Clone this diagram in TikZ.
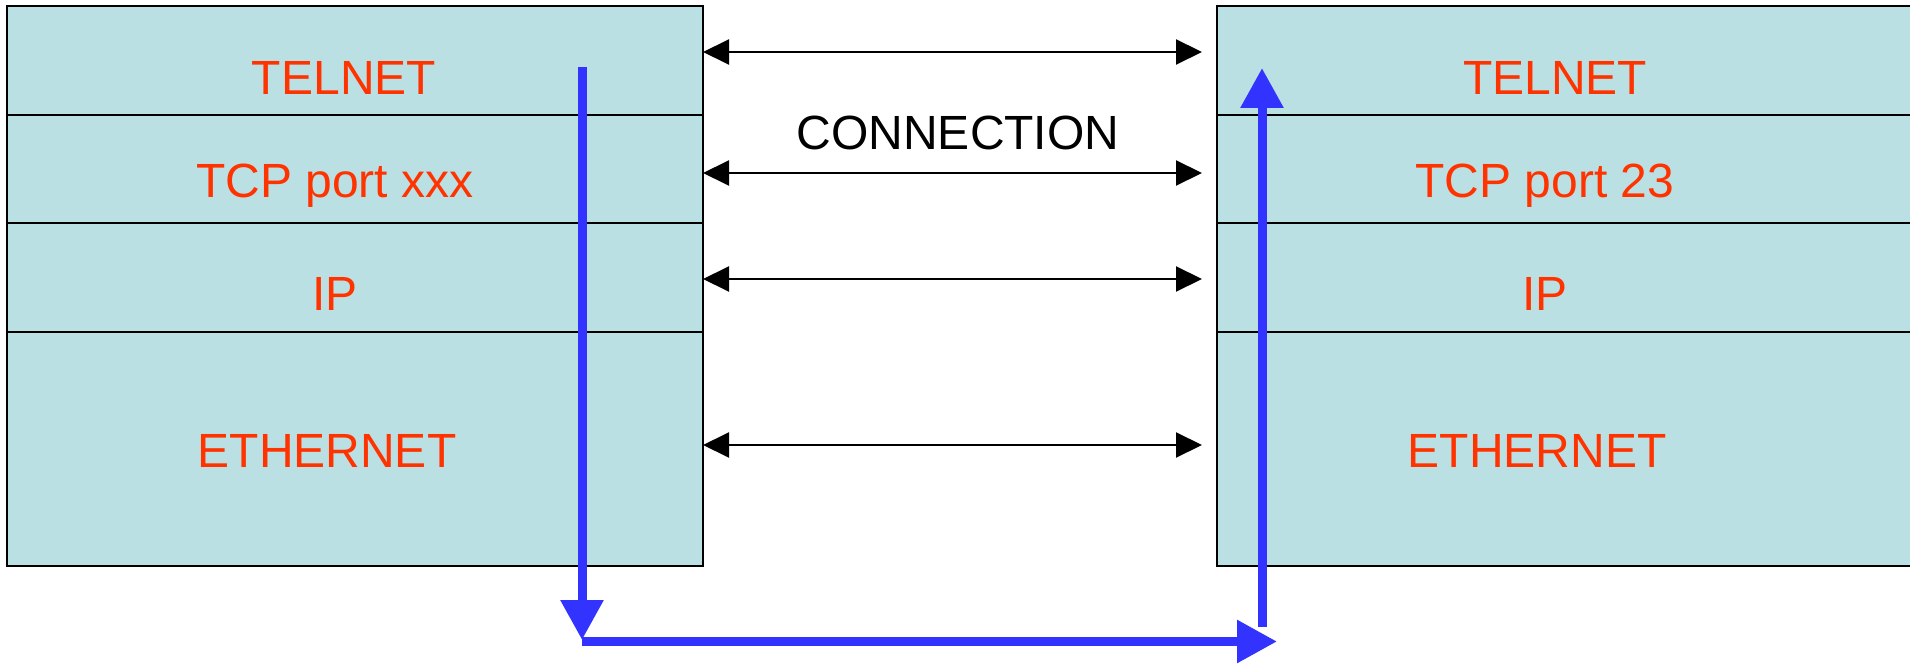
\documentclass[tikz,border=0pt]{standalone}
\usepackage{fontspec}
\setmainfont{Liberation Sans}
\usetikzlibrary{arrows.meta,calc}
\definecolor{layerfill}{HTML}{BBE0E3}
\definecolor{labelred}{HTML}{FF3300}
\definecolor{flowblue}{HTML}{3333FF}
\begin{document}
\begin{tikzpicture}[x=1pt,y=-1pt,
  layer/.style={draw=black, fill=layerfill, line width=2pt, inner sep=0pt, outer sep=0pt},
  lbl/.style={text=labelred, font=\fontsize{48}{58}\selectfont, inner sep=0pt, anchor=base},
  conn/.style={line width=2pt, black, {Triangle[length=26pt,width=25pt]}-{Triangle[length=26pt,width=25pt]}},
  flow/.style={line width=9pt, flowblue, -{Triangle[length=40pt,width=41pt]}}]
\useasboundingbox (0,0) rectangle (1910,668);
\clip (0,0) rectangle (1910,668);
% left stack
\node[layer, minimum width=696pt, minimum height=109pt] (L1) at (355,60.5) {};
\node[layer, minimum width=696pt, minimum height=108pt] (L2) at (355,169) {};
\node[layer, minimum width=696pt, minimum height=109pt] (L3) at (355,277.5) {};
\node[layer, minimum width=696pt, minimum height=234pt] (L4) at (355,449) {};
% right stack
\node[layer, minimum width=708pt, minimum height=109pt] (R1) at (1571,60.5) {};
\node[layer, minimum width=708pt, minimum height=108pt] (R2) at (1571,169) {};
\node[layer, minimum width=708pt, minimum height=109pt] (R3) at (1571,277.5) {};
\node[layer, minimum width=708pt, minimum height=234pt] (R4) at (1571,449) {};
% labels
\node[lbl] (tL1) at (344,95) {TELNET};
\node[lbl] (tL2) at (335,198) {TCP port xxx};
\node[lbl] (tL3) at (335,310) {IP};
\node[lbl] (tL4) at (327,467) {ETHERNET};
\node[lbl] (tR1) at (1555,95) {TELNET};
\node[lbl] (tR2) at (1545,198) {TCP port 23};
\node[lbl] (tR3) at (1545,310) {IP};
\node[lbl] (tR4) at (1537,467) {ETHERNET};
\node[lbl, text=black] (conlbl) at (958,150) {CONNECTION};
% peer connections
\draw[conn] ($(L1.east)+(0,-8.5)$) -- ($(R1.west)+(-15,-8.5)$);
\draw[conn] ($(L2.east)+(0,4)$) -- ($(R2.west)+(-15,4)$);
\draw[conn] ($(L3.east)+(0,1.5)$) -- ($(R3.west)+(-15,1.5)$);
\draw[conn] ($(L4.east)+(0,-4)$) -- ($(R4.west)+(-15,-4)$);
% data flow
\coordinate (downstart) at (582,67);
\coordinate (downend) at (582,640);
\coordinate (acrossstart) at (582,641.5);
\coordinate (acrossend) at (1277,641.5);
\coordinate (upstart) at (1262,627);
\coordinate (upend) at (1262,68);
\draw[flow] (downstart) -- (downend);
\draw[flow] (acrossstart) -- (acrossend);
\draw[flow] (upstart) -- (upend);
\end{tikzpicture}
\end{document}
